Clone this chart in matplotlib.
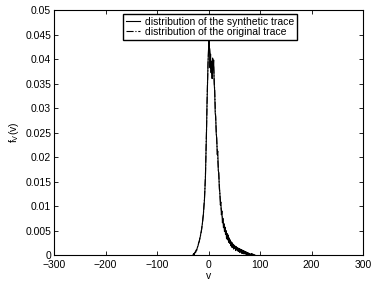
import numpy as np
import matplotlib
matplotlib.use('Agg')
import matplotlib.pyplot as plt

plt.rcParams['font.family'] = ['Liberation Sans', 'DejaVu Sans']
plt.rcParams['font.size'] = 7.5

# synthetic trace distribution, v = -30 .. 90 (values x 1e-4)
v_syn = np.arange(-30, 91)
f_syn = np.array([
    0, 3, 0, 4, 6, 5, 10, 9, 14, 17,
    20, 26, 27, 34, 37, 44, 48, 57, 63, 75,
    82, 99, 110, 133, 158, 204, 246, 305, 345, 392,
    415, 440, 418, 382, 410, 372, 395, 360, 402, 378,
    398, 350, 335, 290, 282, 248, 238, 205, 212, 172,
    168, 135, 128, 102, 108, 82, 90, 66, 75, 56,
    64, 48, 57, 42, 50, 33, 44, 31, 41, 26,
    35, 24, 31, 19, 27, 16, 25, 15, 22, 12,
    20, 14, 18, 9, 17, 11, 15, 8, 14, 7,
    13, 5, 12, 8, 11, 3, 10, 4, 9, 2,
    8, 3, 7, 1, 6, 0, 5, 2, 4, 0,
    3, 0, 2, 0, 3, 0, 2, 0, 1, 0,
    0,
]) * 1e-4

# original trace distribution (values x 1e-4)
v_org = [-30, -28, -26, -24, -22, -20, -18, -16, -14, -12, -10, -8, -6, -4, -2,
         0, 2, 4, 6, 8, 10, 12, 14, 16, 18, 20, 22, 24, 26, 28, 30, 32, 34, 36,
         38, 40, 44, 48, 52, 56, 60, 64, 68, 72, 76, 80, 84, 90]
f_org = np.array([0, 2, 5, 9, 14, 21, 28, 37, 48, 62, 82, 112, 160, 250, 350,
                  420, 425, 400, 385, 390, 385, 335, 275, 232, 195, 162, 125,
                  100, 84, 70, 58, 50, 44, 38, 33, 29, 23, 18, 14, 11, 8, 6, 4,
                  3, 2, 1, 0, 0]) * 1e-4

fig = plt.figure(figsize=(3.73, 2.82), dpi=100)
ax = fig.add_axes([0.1448, 0.0957, 0.8284, 0.8688])

ax.plot(v_syn, f_syn, 'k-', linewidth=0.8, label='distribution of the synthetic trace')
ax.plot(v_org, f_org, 'k-.', linewidth=0.8, label='distribution of the original trace')

ax.set_xlim(-300, 300)
ax.set_ylim(0, 0.05)
ax.set_xticks(np.arange(-300, 301, 100))
ax.set_yticks(np.arange(0, 0.0501, 0.005))
ax.set_yticklabels(['0', '0.005', '0.01', '0.015', '0.02', '0.025', '0.03',
                    '0.035', '0.04', '0.045', '0.05'])
ax.tick_params(direction='in', top=True, right=True, length=3, width=0.6)
ax.tick_params(axis='x', pad=3.5)
ax.tick_params(axis='y', pad=2)
for s in ax.spines.values():
    s.set_linewidth(0.8)

ax.set_xlabel('v', labelpad=1)
ax.set_ylabel(r'f$_\mathregular{V}$(v)', labelpad=3)

leg = ax.legend(loc='upper left', bbox_to_anchor=(0.223, 0.984), borderaxespad=0,
                fancybox=False, edgecolor='black', framealpha=1,
                handlelength=1.4, borderpad=0.25, labelspacing=0.05, handletextpad=0.5)
leg.get_frame().set_linewidth(1.0)

fig.savefig('out.png', dpi=100)
